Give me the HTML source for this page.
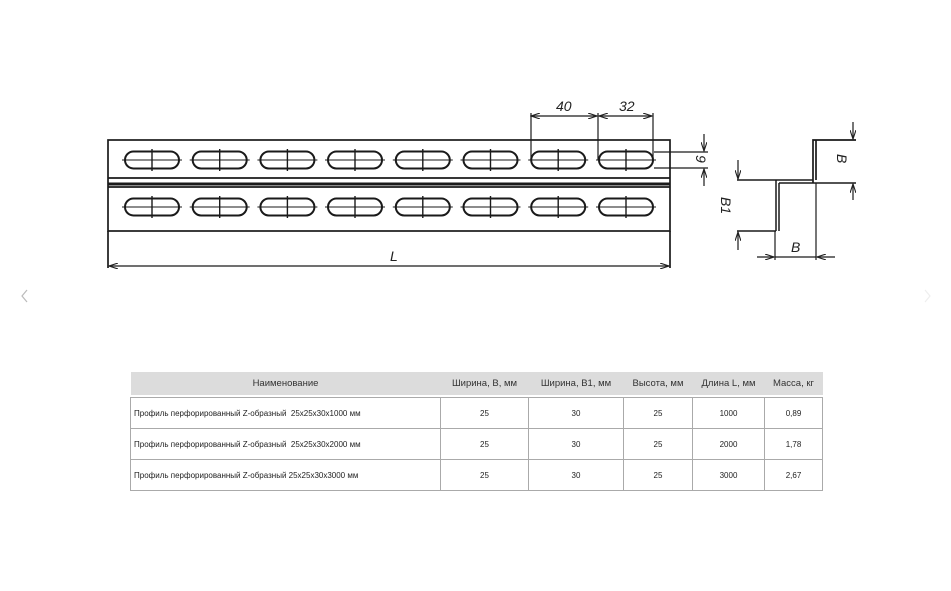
<!DOCTYPE html>
<html><head><meta charset="utf-8"><style>
body{margin:0;width:951px;height:591px;background:#fff;overflow:hidden;position:relative;font-family:"Liberation Sans",sans-serif}
svg{position:absolute;left:0;top:0}
table{position:absolute;left:130px;top:372px;border-collapse:collapse;font-size:8px;color:#222;font-family:"Liberation Sans","Noto Sans CJK SC",sans-serif}
th{background:#dcdcdc;font-weight:normal;font-size:9.5px;height:23px;padding:0;color:#333}
td{border:1px solid #aaa;height:30px;padding:0;text-align:center}
td:first-child{text-align:left;padding-left:3px}
</style></head><body>
<svg width="951" height="591" viewBox="0 0 951 591" fill="none" stroke="#1a1a1a" stroke-width="1.7">
<defs><marker id="a" markerWidth="10" markerHeight="6" refX="9" refY="3" orient="auto-start-reverse" markerUnits="userSpaceOnUse"><path d="M0,0L9,3L0,6" fill="none" stroke="#222" stroke-width="1.1"/></marker>
<g id="s"><rect x="-27" y="-8.5" width="54" height="17" rx="8.5" stroke-width="2"/><line x1="-30" y1="0" x2="30" y2="0" stroke-width="1.1"/><line x1="0" y1="-11" x2="0" y2="11" stroke-width="1.4"/></g></defs>
<rect x="108" y="140" width="562" height="91"/>
<line x1="108" y1="178" x2="670" y2="178"/>
<line x1="108" y1="184" x2="670" y2="184" stroke-width="3"/>
<line x1="108" y1="187" x2="670" y2="187"/>
<line x1="108" y1="231" x2="108" y2="268"/>
<line x1="670" y1="231" x2="670" y2="268"/>
<line x1="109" y1="266" x2="669" y2="266" stroke-width="1.2" marker-start="url(#a)" marker-end="url(#a)"/>
<text x="390" y="261" font-size="14" font-style="italic" fill="#222" stroke="none">L</text>
<g>
<use href="#s" x="152" y="160"/><use href="#s" x="219.7" y="160"/><use href="#s" x="287.4" y="160"/><use href="#s" x="355" y="160"/><use href="#s" x="422.8" y="160"/><use href="#s" x="490.5" y="160"/><use href="#s" x="558.2" y="160"/><use href="#s" x="626" y="160"/>
<use href="#s" x="152" y="207"/><use href="#s" x="219.7" y="207"/><use href="#s" x="287.4" y="207"/><use href="#s" x="355" y="207"/><use href="#s" x="422.8" y="207"/><use href="#s" x="490.5" y="207"/><use href="#s" x="558.2" y="207"/><use href="#s" x="626" y="207"/>
</g>
<line x1="531" y1="113" x2="531" y2="160" stroke-width="1.2"/>
<line x1="598" y1="113" x2="598" y2="160" stroke-width="1.2"/>
<line x1="653" y1="113" x2="653" y2="160" stroke-width="1.2"/>
<line x1="531" y1="116" x2="597" y2="116" stroke-width="1.2" marker-start="url(#a)" marker-end="url(#a)"/>
<line x1="599" y1="116" x2="652" y2="116" stroke-width="1.2" marker-start="url(#a)" marker-end="url(#a)"/>
<text x="556" y="111" font-size="14" font-style="italic" fill="#222" stroke="none">40</text>
<text x="619" y="111" font-size="14" font-style="italic" fill="#222" stroke="none">32</text>
<line x1="654" y1="152" x2="708" y2="152" stroke-width="1.2"/>
<line x1="654" y1="168" x2="708" y2="168" stroke-width="1.2"/>
<line x1="704" y1="134" x2="704" y2="151" stroke-width="1.2" marker-end="url(#a)"/>
<line x1="704" y1="186" x2="704" y2="169" stroke-width="1.2" marker-end="url(#a)"/>
<text x="0" y="0" font-size="14" font-style="italic" fill="#222" stroke="none" transform="translate(696,155) rotate(90)">9</text>
<path d="M813 183V140h3v40M816 140h40" />
<path d="M737 180h39M737 231h39M776 180v51M779 183v48M779 183h37M776 180h37M816 183h40" stroke-width="1.5"/>
<line x1="853" y1="122" x2="853" y2="139" stroke-width="1.2" marker-end="url(#a)"/>
<line x1="853" y1="200" x2="853" y2="184" stroke-width="1.2" marker-end="url(#a)"/>
<line x1="738" y1="160" x2="738" y2="179" stroke-width="1.2" marker-end="url(#a)"/>
<line x1="738" y1="250" x2="738" y2="232" stroke-width="1.2" marker-end="url(#a)"/>
<line x1="775" y1="231" x2="775" y2="260" stroke-width="1.2"/>
<line x1="816" y1="183" x2="816" y2="260" stroke-width="1.2"/>
<line x1="757" y1="257" x2="774" y2="257" stroke-width="1.2" marker-end="url(#a)"/>
<line x1="835" y1="257" x2="817" y2="257" stroke-width="1.2" marker-end="url(#a)"/>
<line x1="775" y1="257" x2="816" y2="257" stroke-width="1.2"/>
<text x="791" y="252" font-size="14" font-style="italic" fill="#222" stroke="none">B</text>
<text x="0" y="0" font-size="14" font-style="italic" fill="#222" stroke="none" transform="translate(837,154) rotate(90)">B</text>
<text x="0" y="0" font-size="14" font-style="italic" fill="#222" stroke="none" transform="translate(721,197) rotate(90)">B1</text>
<path d="M27 290l-5 6 5 6" stroke="#bbb" stroke-width="1.2"/>
<path d="M925 290l5 6-5 6" stroke="#eee" stroke-width="1.2"/>
</svg>
<table>
<tr><th style="width:310px">Наименование</th><th style="width:88px">Ширина, B, мм</th><th style="width:95px">Ширина, B1, мм</th><th style="width:69px">Высота, мм</th><th style="width:72px">Длина L, мм</th><th style="width:58px">Масса, кг</th></tr>
<tr><td colspan="6" style="height:2px;border:none"></td></tr>
<tr><td>Профиль перфорированный Z-образный&nbsp; 25х25х30х1000 мм</td><td>25</td><td>30</td><td>25</td><td>1000</td><td>0,89</td></tr>
<tr><td>Профиль перфорированный Z-образный&nbsp; 25х25х30х2000 мм</td><td>25</td><td>30</td><td>25</td><td>2000</td><td>1,78</td></tr>
<tr><td>Профиль перфорированный Z-образный 25х25х30х3000 мм</td><td>25</td><td>30</td><td>25</td><td>3000</td><td>2,67</td></tr>
</table>
</body></html>
